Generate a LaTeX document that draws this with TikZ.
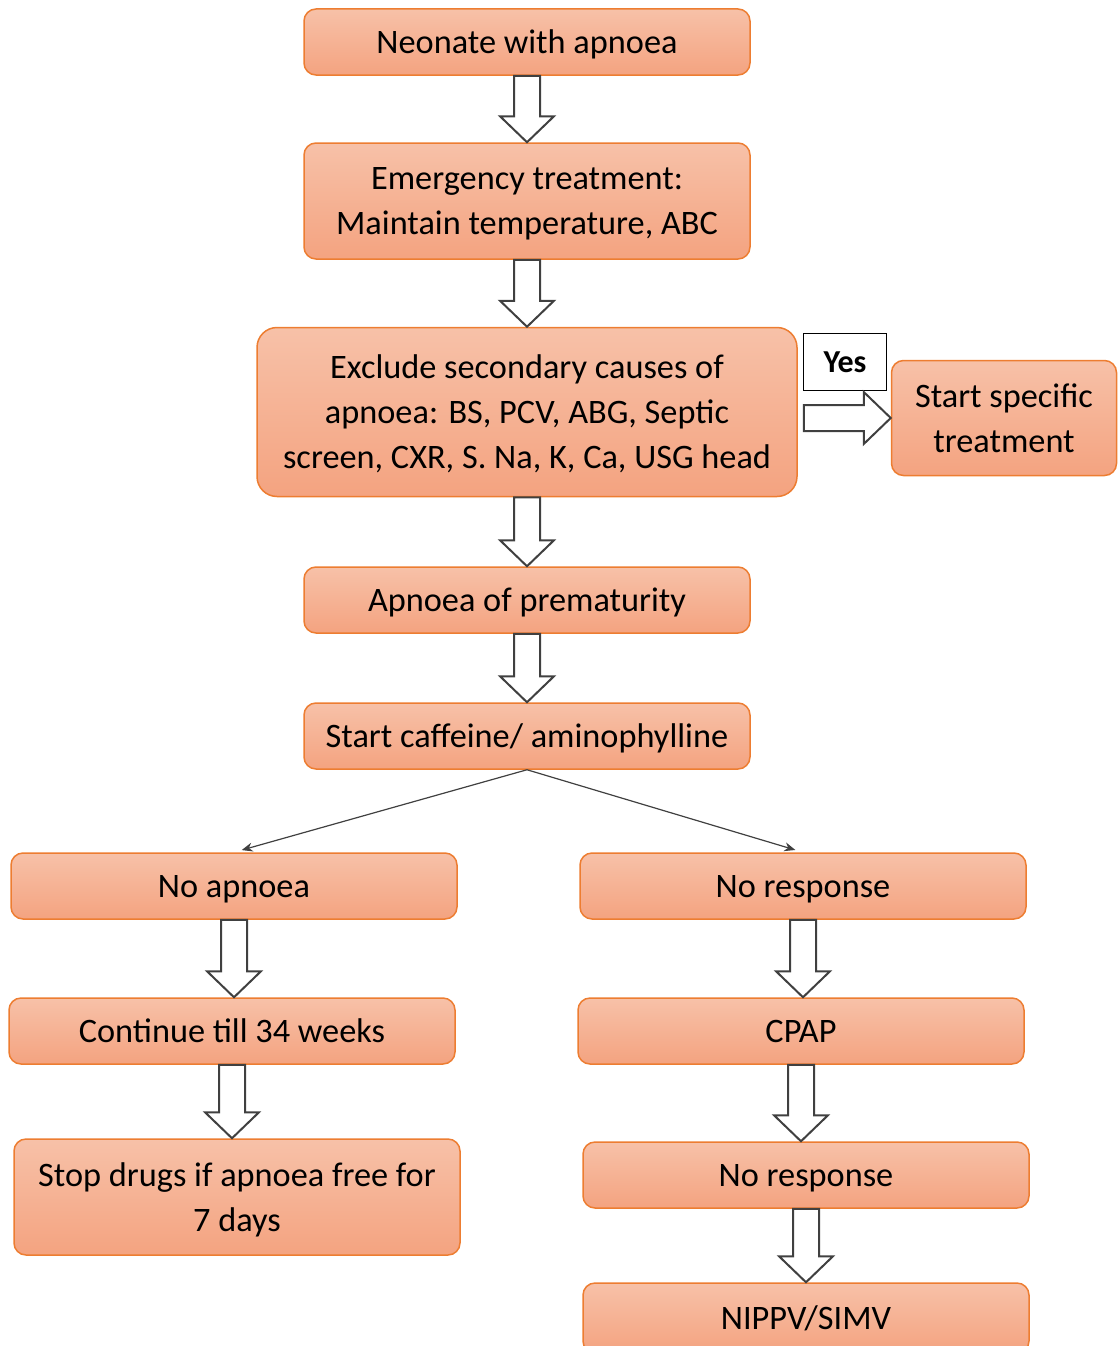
\documentclass[tikz,border=0pt]{standalone}
\usepackage{fontspec}
\setmainfont{Carlito}
\usetikzlibrary{calc,arrows.meta}

\definecolor{boxtop}{RGB}{247,193,168}
\definecolor{boxbot}{RGB}{244,163,128}
\definecolor{boxline}{RGB}{237,125,49}
\definecolor{arrline}{RGB}{64,64,64}

\tikzset{
  flowbox/.style={shape=rectangle,rounded corners=12pt,draw=boxline,line width=1.5pt,
    top color=boxtop,bottom color=boxbot,align=center,minimum width=446pt,
    minimum height=66pt,inner sep=0pt,text depth=0pt,font=\fontsize{34.3}{45}\selectfont},
  blockarrow/.style={draw=arrline,line width=2pt,fill=white,line join=miter},
  thinarrow/.style={draw=arrline,line width=1.2pt,-{Stealth[length=11pt,width=9pt]},shorten >=8pt}
}

\newcommand{\fatdown}[2]{%
  \draw[blockarrow] let \p1=(#1.south), \p2=(#2.north) in
    (\x1-13pt,\y1) -- (\x1+13pt,\y1) -- (\x1+13pt,\y2+26pt) -- (\x1+27pt,\y2+26pt)
    -- (\x1,\y2) -- (\x1-27pt,\y2+26pt) -- (\x1-13pt,\y2+26pt) -- cycle;}
\newcommand{\fatright}[2]{%
  \draw[blockarrow] let \p1=(#1.east), \p2=(#2.west) in
    (\x1+6pt,\y2+13pt) -- (\x2-27pt,\y2+13pt) -- (\x2-27pt,\y2+26pt) -- (\x2,\y2)
    -- (\x2-27pt,\y2-26pt) -- (\x2-27pt,\y2-13pt) -- (\x1+6pt,\y2-13pt) -- cycle;}

\begin{document}
\begin{tikzpicture}[x=1pt,y=-1pt]
\useasboundingbox (0,0) rectangle (1117,1346);

\node[flowbox] (neo) at (527,42) {Neonate with apnoea};
\node[flowbox,minimum height=116pt] (emer) at (527,201) {Emergency treatment:\\Maintain temperature, ABC};
\node[flowbox,minimum width=540pt,minimum height=169pt,rounded corners=20pt] (excl) at (527,412)
  {Exclude secondary causes of\\apnoea: BS, PCV, ABG, Septic\\screen, CXR, S. Na, K, Ca, USG head};
\node[flowbox,minimum width=225pt,minimum height=115pt] (spec) at (1004,418) {Start specific\\treatment};
\node[draw=black,line width=1.5pt,fill=white,minimum width=83pt,minimum height=57pt,
  font=\fontsize{32}{38}\selectfont\bfseries] (yes) at (845,362) {Yes};
\node[flowbox] (prem) at (527,600) {Apnoea of prematurity};
\node[flowbox] (caff) at (527,736) {Start caffeine/ aminophylline};
\node[flowbox] (noap) at (234,886) {No apnoea};
\node[flowbox] (nores) at (803,886) {No response};
\node[flowbox] (cont) at (232,1031) {Continue till 34 weeks};
\node[flowbox] (cpap) at (801,1031) {CPAP};
\node[flowbox,minimum height=116pt] (stop) at (237,1197) {Stop drugs if apnoea free for\\7 days};
\node[flowbox] (nores2) at (806,1175) {No response};
\node[flowbox,minimum height=70pt] (nippv) at (806,1318) {NIPPV/SIMV};

\fatdown{neo}{emer}
\fatdown{emer}{excl}
\fatright{excl}{spec}
\fatdown{excl}{prem}
\fatdown{prem}{caff}
\draw[thinarrow] (caff.south) -- (noap.north);
\draw[thinarrow] (caff.south) -- (nores.north);
\fatdown{noap}{cont}
\fatdown{cont}{stop}
\fatdown{nores}{cpap}
\fatdown{cpap}{nores2}
\fatdown{nores2}{nippv}
\end{tikzpicture}
\end{document}
